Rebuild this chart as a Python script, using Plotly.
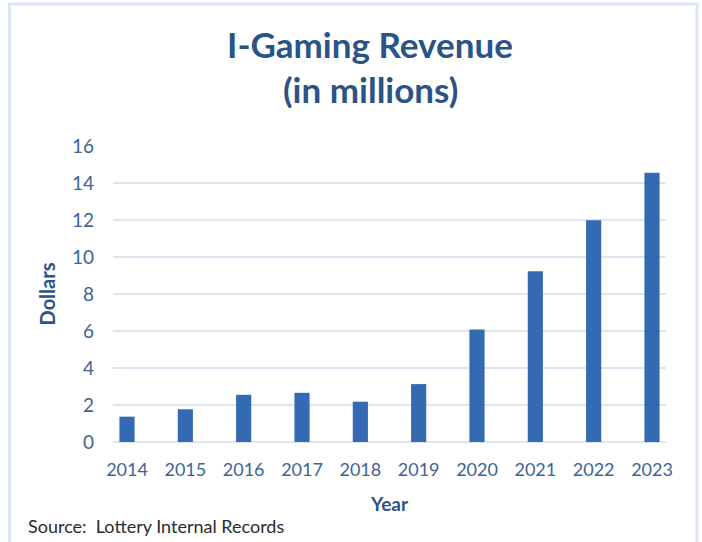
import plotly.graph_objects as go

years = ['2014', '2015', '2016', '2017', '2018', '2019', '2020', '2021', '2022', '2023']
revenue = [1.37, 1.77, 2.55, 2.66, 2.18, 3.13, 6.08, 9.23, 11.99, 14.55]
y_ticks = [0, 2, 4, 6, 8, 10, 12, 14, 16]

TEXT_BLUE = '#2b5486'
TICK_BLUE = '#3e6494'
GRID = '#dce6f2'
FONT = 'Lato'

W, H = 702, 542
L, R, T, B = 113, 36, 146, 100
plot_w = W - L - R
plot_h = H - T - B


def px_x(px):
    return (px - L) / plot_w


def px_y(py):
    return (H - B - py) / plot_h


fig = go.Figure()
fig.add_trace(go.Bar(
    x=years,
    y=revenue,
    width=0.26,
    marker={'color': '#336ab1', 'line': {'width': 0}},
    hovertemplate='%{x}: %{y}<extra></extra>',
))

fig.update_layout(
    width=W, height=H,
    margin={'l': L, 'r': R, 't': T, 'b': B},
    paper_bgcolor='white',
    plot_bgcolor='white',
    showlegend=False,
    font={'family': FONT, 'color': TICK_BLUE},
    xaxis={
        'type': 'category',
        'range': [-0.24, 9.24],
        'showgrid': False,
        'zeroline': False,
        'showline': False,
        'ticks': '',
        'ticklabelstandoff': 15,
        'tickfont': {'size': 18, 'color': TICK_BLUE},
        'title': {'text': '<b>Year</b>', 'font': {'size': 19, 'color': TEXT_BLUE}, 'standoff': 18},
    },
    yaxis={
        'range': [0, 16],
        'tickvals': y_ticks,
        'showgrid': True,
        'gridcolor': GRID,
        'gridwidth': 1.5,
        'zeroline': True,
        'zerolinecolor': GRID,
        'zerolinewidth': 1.5,
        'showline': False,
        'ticks': '',
        'ticklabelstandoff': 18,
        'tickfont': {'size': 19, 'color': TICK_BLUE},
        'title': {'text': '<b>Dollars</b>', 'font': {'size': 20, 'color': TEXT_BLUE}, 'standoff': 10},
    },
    annotations=[
        dict(text='<b>I-Gaming Revenue</b>', x=px_x(370), y=px_y(44), xref='paper', yref='paper',
             showarrow=False, xanchor='center', yanchor='middle',
             font={'size': 35, 'color': TEXT_BLUE, 'family': FONT}),
        dict(text='<b>(in millions)</b>', x=px_x(370), y=px_y(89), xref='paper', yref='paper',
             showarrow=False, xanchor='center', yanchor='middle',
             font={'size': 35, 'color': TEXT_BLUE, 'family': FONT}),
        dict(text='Source:  Lottery Internal Records', x=px_x(26), y=px_y(526), xref='paper', yref='paper',
             showarrow=False, xanchor='left', yanchor='middle',
             font={'size': 18, 'color': '#2b2b2b', 'family': FONT}),
    ],
    shapes=[
        dict(type='rect', xref='paper', yref='paper', layer='below',
             x0=px_x(9.5), x1=px_x(697), y0=px_y(560), y1=px_y(4),
             line={'color': GRID, 'width': 3}),
    ],
)

# drop the browser's default page margin so the figure sits at (0, 0)
fig.write_html('out.html', config={'displayModeBar': False},
               post_script="document.body.style.margin = '0';")
